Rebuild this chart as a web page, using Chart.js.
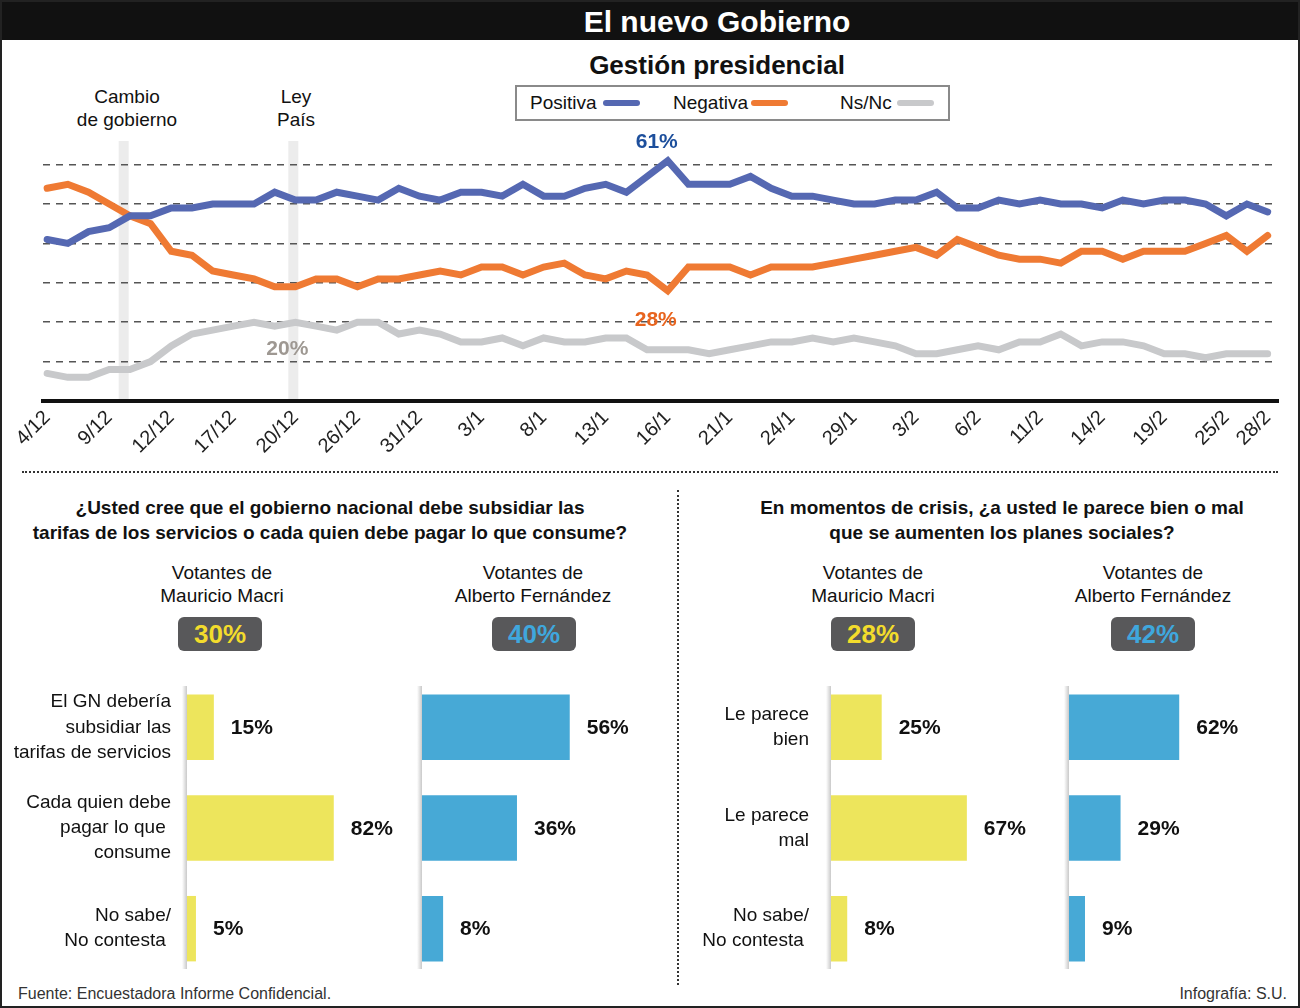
<!DOCTYPE html>
<html lang="es">
<head>
<meta charset="utf-8">
<title>El nuevo Gobierno</title>
<script src="https://cdn.jsdelivr.net/npm/chart.js@4.4.1/dist/chart.umd.min.js"></script>
<style>
  body { margin: 0; background: #fff; font-family: 'Liberation Sans', Arial, sans-serif; color: #111; }
  #page { position: relative; width: 1300px; height: 1008px; overflow: hidden; background: #fff; }
  #page div, #page canvas { position: absolute; }
  .frame { left: 0; top: 0; width: 1300px; height: 1008px; box-sizing: border-box; border: 2px solid #222; z-index: 5; }
  .titlebar { left: 0; top: 0; width: 1300px; height: 40px; background: #111; }
  .title { left: 517px; top: 0; width: 400px; text-align: center; line-height: 44px; font-size: 30px; font-weight: bold; color: #fff; }
  .subtitle { left: 517px; top: 50px; width: 400px; text-align: center; line-height: 30px; font-size: 26px; font-weight: bold; }
  .legbox { left: 515px; top: 85px; width: 435px; height: 36px; box-sizing: border-box; border: 2px solid #8a8a8a; }
  .legtxt { top: 91px; line-height: 24px; font-size: 19px; }
  .legline { top: 100px; width: 37px; height: 6px; border-radius: 3px; }
  .evento { top: 85px; text-align: center; line-height: 23px; font-size: 19px; }
  .sepH { left: 22px; top: 471px; width: 1256px; border-top: 2px dotted #333; }
  .sepV { left: 677px; top: 490px; height: 495px; border-left: 2px dotted #333; }
  .pregunta { top: 495px; text-align: center; line-height: 25px; font-size: 19px; font-weight: bold; }
  .votantes { top: 561px; width: 200px; text-align: center; line-height: 23px; font-size: 19px; }
  .badge { top: 617px; width: 84px; height: 34px; border-radius: 6px; background: #58585a; text-align: center; line-height: 35px; font-size: 26px; font-weight: bold; }
  .footer { top: 984px; line-height: 20px; font-size: 16px; color: #333; }
</style>
</head>
<body>
<div id="page">
  <div class="titlebar"></div>
  <div class="title">El nuevo Gobierno</div>
  <div class="subtitle">Gestión presidencial</div>

  <div class="legbox"></div>
  <div class="legtxt" style="left:530px">Positiva</div>
  <div class="legline" style="left:603px;background:#5568b2"></div>
  <div class="legtxt" style="left:673px">Negativa</div>
  <div class="legline" style="left:751px;background:#ef7a33"></div>
  <div class="legtxt" style="left:840px">Ns/Nc</div>
  <div class="legline" style="left:897px;background:#c8c9cb"></div>

  <div class="evento" style="left:57px;width:140px">Cambio<br>de gobierno</div>
  <div class="evento" style="left:246px;width:100px">Ley<br>País</div>

  <canvas id="linea" width="1300" height="340" style="left:0;top:130px"></canvas>

  <div class="sepH"></div>
  <div class="sepV"></div>

  <div class="pregunta" style="left:0;width:660px">¿Usted cree que el gobierno nacional debe subsidiar las<br>tarifas de los servicios o cada quien debe pagar lo que consume?</div>
  <div class="pregunta" style="left:702px;width:600px">En momentos de crisis, ¿a usted le parece bien o mal<br>que se aumenten los planes sociales?</div>

  <div class="votantes" style="left:122px">Votantes de<br>Mauricio Macri</div>
  <div class="votantes" style="left:433px">Votantes de<br>Alberto Fernández</div>
  <div class="votantes" style="left:773px">Votantes de<br>Mauricio Macri</div>
  <div class="votantes" style="left:1053px">Votantes de<br>Alberto Fernández</div>

  <div class="badge" style="left:178px;color:#f3dc2c">30%</div>
  <div class="badge" style="left:492px;color:#3fa7dd">40%</div>
  <div class="badge" style="left:831px;color:#f3dc2c">28%</div>
  <div class="badge" style="left:1111px;color:#3fa7dd">42%</div>

  <canvas id="barA" width="400" height="302" style="left:0;top:677px"></canvas>
  <canvas id="barB" width="254" height="302" style="left:416px;top:677px"></canvas>
  <canvas id="barC" width="370" height="302" style="left:680px;top:677px"></canvas>
  <canvas id="barD" width="230" height="302" style="left:1063px;top:677px"></canvas>

  <div class="footer" style="left:18px">Fuente: Encuestadora Informe Confidencial.</div>
  <div class="footer" style="left:1000px;width:287px;text-align:right">Infografía: S.U.</div>

  <div class="frame"></div>
</div>

<script>
const FONT = "'Liberation Sans', Arial, sans-serif";
Chart.defaults.font.family = FONT;

// tick labels of the time axis and the point index where each one sits
const fechas = ['4/12', '9/12', '12/12', '17/12', '20/12', '26/12', '31/12', '3/1', '8/1', '13/1', '16/1',
                '21/1', '24/1', '29/1', '3/2', '6/2', '11/2', '14/2', '19/2', '25/2', '28/2'];
const fechasIdx = [0, 3, 6, 9, 12, 15, 18, 21, 24, 27, 30, 33, 36, 39, 42, 45, 48, 51, 54, 57, 59];

// Gestion presidencial, 60 mediciones
const positiva = [41, 40, 43, 44, 47, 47, 49, 49, 50, 50, 50, 53, 51, 51, 53, 52, 51, 54, 52, 51,
                  53, 53, 52, 55, 52, 52, 54, 55, 53, 57, 61, 55, 55, 55, 57, 54, 52, 52, 51, 50,
                  50, 51, 51, 53, 49, 49, 51, 50, 51, 50, 50, 49, 51, 50, 51, 51, 50, 47, 50, 48];
const negativa = [54, 55, 53, 50, 47, 45, 38, 37, 33, 32, 31, 29, 29, 31, 31, 29, 31, 31, 32, 33,
                  32, 34, 34, 32, 34, 35, 32, 31, 33, 32, 28, 34, 34, 34, 32, 34, 34, 34, 35, 36,
                  37, 38, 39, 37, 41, 39, 37, 36, 36, 35, 38, 38, 36, 38, 38, 38, 40, 42, 38, 42];
const nsnc     = [7, 6, 6, 8, 8, 10, 14, 17, 18, 19, 20, 19, 20, 19, 18, 20, 20, 17, 18, 17,
                  15, 15, 16, 14, 16, 15, 15, 16, 16, 13, 13, 13, 12, 13, 14, 15, 15, 16, 15, 16,
                  15, 14, 12, 12, 13, 14, 13, 15, 15, 17, 14, 15, 15, 14, 12, 12, 11, 12, 12, 12];

// Cambio de gobierno, Ley País (position on the time axis)
const eventos = [3.7, 11.9];

// encuesta: subsidio de tarifas
const catSubsidio = [['El GN debería', 'subsidiar las', 'tarifas de servicios'],
                     ['Cada quien debe', 'pagar lo que ', 'consume'],
                     ['No sabe/', 'No contesta ']];
const subsidioMacri = [15, 82, 5];
const subsidioFernandez = [56, 36, 8];

// encuesta: planes sociales
const catPlanes = [['Le parece', 'bien'], ['Le parece', 'mal'], ['No sabe/', 'No contesta ']];
const planesMacri = [25, 67, 8];
const planesFernandez = [62, 29, 9];

const AZUL = '#5568b2', NARANJA = '#ef7a33', GRIS = '#c8c9cb';
const AMARILLO = '#ede55c', CELESTE = '#47a9d6';

const toXY = arr => arr.map((v, i) => ({x: i, y: v}));

// highlighted values on the line chart
const destacados = [
  {serie: 0, idx: 30, texto: '61%', color: '#1d4f9c', dx: -11, dy: -18},
  {serie: 1, idx: 30, texto: '28%', color: '#e8641e', dx: -12, dy: 30},
  {serie: 2, idx: 12, texto: '20%', color: '#9e9892', dx: -8, dy: 27}
];

const bandas = {
  id: 'bandas',
  beforeDraw(chart) {
    const {ctx, chartArea, scales} = chart;
    ctx.save();
    ctx.fillStyle = '#ececec';
    eventos.forEach(e => {
      const px = scales.x.getPixelForValue(e);
      ctx.fillRect(px - 5, chartArea.top, 10, chartArea.bottom - chartArea.top);
    });
    ctx.restore();
  }
};

const etiquetas = {
  id: 'etiquetas',
  afterDatasetsDraw(chart) {
    const ctx = chart.ctx;
    ctx.save();
    ctx.font = 'bold 21px ' + FONT;
    ctx.textAlign = 'center';
    ctx.textBaseline = 'middle';
    destacados.forEach(d => {
      const p = chart.getDatasetMeta(d.serie).data[d.idx];
      ctx.fillStyle = d.color;
      ctx.fillText(d.texto, p.x + d.dx, p.y + d.dy);
    });
    ctx.restore();
  }
};

function serie(label, data, color) {
  return {label: label, data: toXY(data), borderColor: color, borderWidth: 7, pointRadius: 0,
          borderCapStyle: 'round', borderJoinStyle: 'miter', tension: 0};
}

new Chart(document.getElementById('linea'), {
  type: 'line',
  data: {
    datasets: [serie('Positiva', positiva, AZUL), serie('Negativa', negativa, NARANJA), serie('Ns/Nc', nsnc, GRIS)]
  },
  options: {
    responsive: false,
    animation: false,
    layout: {padding: {left: 43, right: 22, top: 11, bottom: 0}},
    plugins: {legend: {display: false}, tooltip: {enabled: false}},
    scales: {
      x: {
        type: 'linear', min: -0.2, max: 59.5,
        afterBuildTicks: s => { s.ticks = fechasIdx.map(v => ({value: v})); },
        afterFit: s => { s.height = 69; },
        grid: {display: false, drawTicks: false},
        border: {display: true, color: '#111', width: 4},
        ticks: {
          autoSkip: false, minRotation: 45, maxRotation: 45, padding: 5, color: '#222',
          font: {size: 20},
          callback: v => fechas[fechasIdx.indexOf(v)]
        }
      },
      y: {
        min: 0, max: 66,
        afterBuildTicks: s => { s.ticks = [10, 20, 30, 40, 50, 60].map(v => ({value: v})); },
        afterFit: s => { s.width = 0; },
        ticks: {display: false},
        border: {display: false, dash: [7, 6]},
        grid: {color: '#555', lineWidth: 1.5, drawTicks: false}
      }
    }
  },
  plugins: [bandas, etiquetas]
});

const ejeBarras = {
  id: 'ejeBarras',
  beforeDatasetsDraw(chart) {
    const {ctx, chartArea} = chart;
    const g = ctx.createLinearGradient(chartArea.left - 5, 0, chartArea.left, 0);
    g.addColorStop(0, '#ffffff');
    g.addColorStop(1, '#c9c9c9');
    ctx.save();
    ctx.fillStyle = g;
    ctx.fillRect(chartArea.left - 5, chartArea.top + 9, 5, chartArea.bottom - chartArea.top - 19);
    ctx.restore();
  }
};

const valoresBarras = {
  id: 'valoresBarras',
  afterDatasetsDraw(chart) {
    const ctx = chart.ctx;
    const ds = chart.data.datasets[0];
    ctx.save();
    ctx.font = 'bold 21px ' + FONT;
    ctx.fillStyle = '#111';
    ctx.textAlign = 'left';
    ctx.textBaseline = 'middle';
    chart.getDatasetMeta(0).data.forEach((bar, i) => {
      ctx.fillText(ds.data[i] + '%', bar.x + 17, bar.y + 1);
    });
    ctx.restore();
  }
};

function barras(id, cats, valores, color, anchoEje, maximo, padIzq, sepEtiqueta) {
  new Chart(document.getElementById(id), {
    type: 'bar',
    data: {
      labels: cats,
      datasets: [{data: valores, backgroundColor: color, barPercentage: 0.65, categoryPercentage: 1}]
    },
    options: {
      indexAxis: 'y',
      responsive: false,
      animation: false,
      layout: {padding: {left: padIzq, right: 0, top: 0, bottom: 0}},
      plugins: {legend: {display: false}, tooltip: {enabled: false}},
      scales: {
        x: {display: false, min: 0, max: maximo},
        y: {
          afterFit: s => { s.width = anchoEje; s.paddingTop = 0; s.paddingBottom = 0; },
          grid: {display: false, drawTicks: false},
          border: {display: false},
          ticks: {display: anchoEje > 0, padding: sepEtiqueta, color: '#111', font: {size: 19, lineHeight: 1.32}}
        }
      }
    },
    plugins: [ejeBarras, valoresBarras]
  });
}

barras('barA', catSubsidio, subsidioMacri, AMARILLO, 187, 119, 0, 16);
barras('barB', catSubsidio, subsidioFernandez, CELESTE, 0, 94, 6, 0);
barras('barC', catPlanes, planesMacri, AMARILLO, 151, 108, 0, 22);
barras('barD', catPlanes, planesFernandez, CELESTE, 0, 126, 6, 0);
</script>
</body>
</html>
